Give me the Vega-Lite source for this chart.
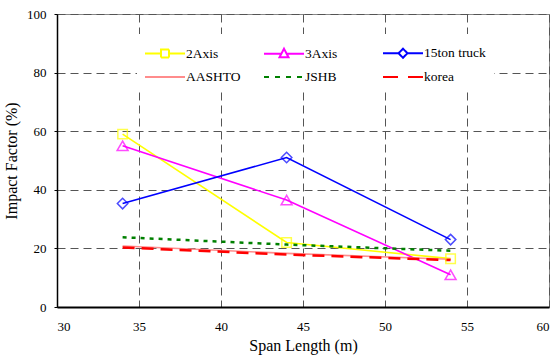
{
  "$schema": "https://vega.github.io/schema/vega-lite/v6.json",
  "width": 492,
  "height": 293,
  "autosize": {"type": "none"},
  "padding": {"left": 57, "top": 14, "right": 3, "bottom": 49},
  "background": "white",
  "config": {
    "view": {"stroke": "#888", "strokeWidth": 1},
    "font": "Liberation Serif",
    "axis": {
      "labelFont": "Liberation Serif", "labelFontSize": 13, "labelColor": "black",
      "titleFont": "Liberation Serif", "titleFontSize": 16, "titleFontWeight": "normal", "titleColor": "black",
      "gridColor": "#555", "gridDash": [8, 5], "gridWidth": 1,
      "domainColor": "black", "tickColor": "black", "tickSize": 3
    }
  },
  "data": {
    "values": [
      {"series": "2Axis", "span": 34, "impact": 59},
      {"series": "2Axis", "span": 44, "impact": 22},
      {"series": "2Axis", "span": 54, "impact": 16.5},
      {"series": "3Axis", "span": 34, "impact": 55},
      {"series": "3Axis", "span": 44, "impact": 36.5},
      {"series": "3Axis", "span": 54, "impact": 11},
      {"series": "15ton truck", "span": 34, "impact": 35.3},
      {"series": "15ton truck", "span": 44, "impact": 51},
      {"series": "15ton truck", "span": 54, "impact": 23},
      {"series": "AASHTO", "span": 34, "impact": 20.8},
      {"series": "AASHTO", "span": 44, "impact": 18.3},
      {"series": "AASHTO", "span": 54, "impact": 16.3},
      {"series": "JSHB", "span": 34, "impact": 23.8},
      {"series": "JSHB", "span": 44, "impact": 21.3},
      {"series": "JSHB", "span": 54, "impact": 19.2},
      {"series": "korea", "span": 34, "impact": 20.3},
      {"series": "korea", "span": 44, "impact": 17.9},
      {"series": "korea", "span": 54, "impact": 16.0}
    ]
  },
  "encoding": {
    "x": {
      "field": "span", "type": "quantitative",
      "scale": {"domain": [30, 60], "nice": false, "zero": false},
      "axis": {"values": [30, 35, 40, 45, 50, 55, 60], "title": "Span Length (m)", "domainWidth": 2, "labelPadding": 13, "titlePadding": 4, "ticks": false}
    },
    "y": {
      "field": "impact", "type": "quantitative",
      "scale": {"domain": [0, 100], "nice": false},
      "axis": {"values": [0, 20, 40, 60, 80, 100], "title": "Impact Factor (%)", "domainWidth": 1.5, "labelPadding": 8, "titlePadding": 7}
    },
    "color": {"field": "series", "type": "nominal",
      "scale": {"domain": ["2Axis", "3Axis", "15ton truck", "AASHTO", "JSHB", "korea"], "range": ["#FFFF00", "#FF00FF", "#0000FF", "#FF8C8C", "#008000", "#FF0000"]},
      "legend": {
        "title": null, "orient": "none", "legendX": 80, "legendY": 20, "columns": 3, "direction": "horizontal", "gridAlign": "all",
        "columnPadding": 12, "rowPadding": 4, "padding": 8, "fillColor": "white",
        "symbolSize": 400, "symbolStrokeWidth": 2, "symbolOffset": 9, "labelOffset": 10, "symbolDash": [1, 0],
        "labelFont": "Liberation Serif", "labelFontSize": 13.5, "labelColor": "black"
      }
    }
  },
  "layer": [
    {
      "mark": {"type": "point", "filled": false, "strokeWidth": 2, "opacity": 1},
      "transform": [{"filter": "datum.span < 0"}],
      "encoding": {
        "shape": {"field": "series", "type": "nominal",
          "legend": {
            "title": null, "orient": "none", "legendX": 80, "legendY": 20, "columns": 3, "direction": "horizontal", "gridAlign": "all",
            "columnPadding": 12, "rowPadding": 4, "padding": 8, "fillColor": "white",
            "symbolSize": 400, "symbolStrokeWidth": 2, "symbolOffset": 9, "labelOffset": 10, "symbolDash": [1, 0],
            "labelFont": "Liberation Serif", "labelFontSize": 13.5, "labelColor": "black"
          },
          "scale": {"domain": ["2Axis", "3Axis", "15ton truck", "AASHTO", "JSHB", "korea"],
            "range": [
              "M-2,0H-0.4M0.4,0H2M-0.4,-0.4H0.4V0.4H-0.4Z",
              "M-2,0H-0.3M0.3,0H2M0,-0.5L0.45,0.35H-0.45Z",
              "M-2,0H-0.45M0.45,0H2M-0.45,0L0,-0.45L0.45,0L0,0.45Z",
              "M-2,0H2",
              "M-2,0H-1.5M-0.9,0H-0.4M0.2,0H0.7M1.3,0H1.8",
              "M-2,0H-0.5M0.5,0H2"
            ]}}
      }
    },
    {
      "transform": [{"filter": "datum.series == '2Axis' || datum.series == '3Axis' || datum.series == '15ton truck' || datum.series == 'AASHTO'"}],
      "mark": {"type": "line", "strokeWidth": 1.6}
    },
    {
      "transform": [{"filter": "datum.series == 'JSHB'"}],
      "mark": {"type": "line", "strokeWidth": 2.5, "strokeDash": [4, 5]}
    },
    {
      "transform": [{"filter": "datum.series == 'korea'"}],
      "mark": {"type": "line", "strokeWidth": 2.5, "strokeDash": [12, 7]}
    },
    {
      "transform": [{"filter": "datum.series == '2Axis'"}],
      "mark": {"type": "point", "shape": "square", "filled": false, "size": 90, "strokeWidth": 1.5}
    },
    {
      "transform": [{"filter": "datum.series == '3Axis'"}],
      "mark": {"type": "point", "shape": "triangle-up", "filled": false, "size": 120, "strokeWidth": 1.5}
    },
    {
      "transform": [{"filter": "datum.series == '15ton truck'"}],
      "mark": {"type": "point", "shape": "diamond", "filled": false, "size": 110, "strokeWidth": 1.5}
    }
  ]
}
